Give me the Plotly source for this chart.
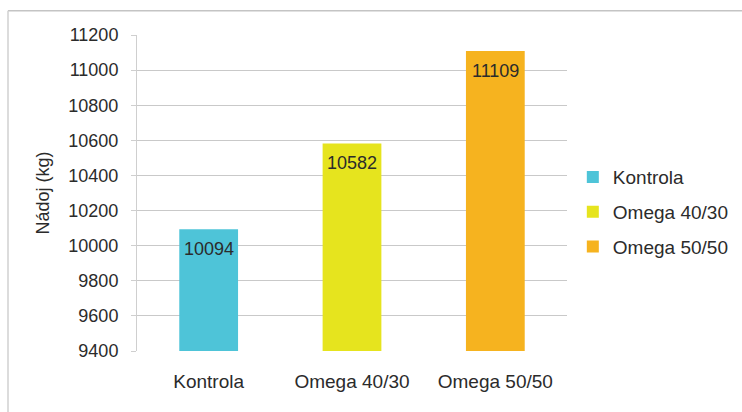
import plotly.graph_objects as go

# Yield per group
categories = ["Kontrola", "Omega 40/30", "Omega 50/50"]
values = [10094, 10582, 11109]
colors = ["#4ec4d8", "#e6e41e", "#f6b31f"]
y_ticks = [9400, 9600, 9800, 10000, 10200, 10400, 10600, 10800, 11000, 11200]

FONT = "Liberation Sans, Arial, Helvetica, sans-serif"
TEXT_COLOR = "#2b2b2b"

fig = go.Figure()
for name, val, col in zip(categories, values, colors):
    fig.add_trace(go.Bar(
        x=[name], y=[val], name=name, marker_color=col,
        marker_line_width=0, width=0.41, legendgroup=name,
    ))
    # value label just under the top of each bar
    fig.add_annotation(
        x=name, y=val, text=str(val), showarrow=False,
        yshift=-20, font=dict(family=FONT, size=18, color=TEXT_COLOR),
    )

fig.update_layout(
    width=742, height=412,
    margin=dict(l=137, r=175, t=35, b=61, autoexpand=False),
    paper_bgcolor="white", plot_bgcolor="white",
    barmode="overlay",
    font=dict(family=FONT, size=19, color=TEXT_COLOR),
    legend=dict(
        xref="container", yref="container",
        x=0.772, xanchor="left", y=0.485, yanchor="middle",
        font=dict(family=FONT, size=19, color=TEXT_COLOR),
        traceorder="grouped", tracegroupgap=7,
        itemwidth=30,
    ),
    xaxis=dict(
        categoryorder="array", categoryarray=categories,
        showgrid=False, showline=False, ticks="",
        ticklabelstandoff=17,
        tickfont=dict(family=FONT, size=19, color=TEXT_COLOR),
    ),
    yaxis=dict(
        range=[9400, 11200], tickvals=y_ticks,
        ticktext=[str(t) for t in y_ticks],
        showgrid=True, gridcolor="#c9c9c9", gridwidth=1,
        showline=True, linecolor="#cfcfcf", linewidth=1,
        ticks="outside", ticklen=5, tickcolor="#cfcfcf",
        ticklabelstandoff=9,
        tickfont=dict(family=FONT, size=18, color=TEXT_COLOR),
        zeroline=False,
        title=dict(text="Nádoj (kg)", font=dict(family=FONT, size=18, color=TEXT_COLOR), standoff=14),
    ),
    shapes=[
        # frame lines at top and left
        dict(type="line", xref="paper", yref="paper", x0=-0.3, x1=1.5, y0=1.077, y1=1.077,
             line=dict(color="#c4c4c4", width=1.5)),
        dict(type="line", xref="paper", yref="paper", x0=-0.3, x1=-0.3, y0=1.077, y1=-0.2,
             line=dict(color="#d0d0d0", width=1.5)),
    ],
)

fig.write_html("out.html")
